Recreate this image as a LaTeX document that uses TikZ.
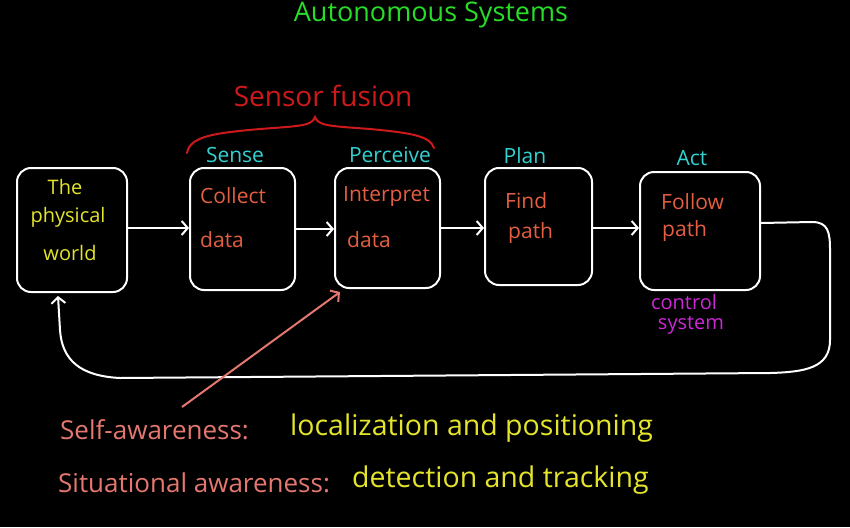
\documentclass[tikz,border=0pt]{standalone}
\usepackage{fontspec}
\setmainfont{Open Sans}
\usetikzlibrary{arrows.meta}
\definecolor{cgreen}{RGB}{40,220,40}
\definecolor{cred}{RGB}{205,25,25}
\definecolor{ccyan}{RGB}{50,210,210}
\definecolor{corange}{RGB}{228,95,65}
\definecolor{cyellow}{RGB}{228,228,45}
\definecolor{cmag}{RGB}{205,40,215}
\definecolor{cpink}{RGB}{228,120,112}
\newcommand{\fs}[1]{\fontsize{#1}{#1}\selectfont}
\begin{document}
\begin{tikzpicture}[x=1pt,y=-1pt,
  blk/.style={draw=white,line width=2pt,rounded corners=14pt,inner sep=0pt},
  link/.style={draw=white,line width=2pt,-{Straight Barb[length=6pt,width=14pt,line width=2pt]}},
  inbox/.style={text=corange,font=\fs{21},anchor=west,inner sep=0pt},
  stage/.style={text=ccyan,font=\fs{21},inner sep=0pt},
  note/.style={font=\fs{26},anchor=west,inner sep=0pt},
  ynote/.style={font=\fs{28.5},anchor=west,inner sep=0pt,text=cyellow}]
\fill[black] (0,0) rectangle (850,527);
\useasboundingbox (0,0) rectangle (850,527);

% title
\node[text=cgreen,font=\fs{27},inner sep=0pt] (title) at (431,15) {Autonomous Systems};

% boxes
\node[blk,minimum width=110pt,minimum height=124pt] (world) at (72,230) {};
\node[blk,minimum width=105pt,minimum height=122pt] (sense) at (242.5,229) {};
\node[blk,minimum width=105pt,minimum height=120pt] (perceive) at (387.5,228) {};
\node[blk,minimum width=107pt,minimum height=117pt] (plan) at (538.5,226.5) {};
\node[blk,minimum width=120pt,minimum height=118pt] (act) at (700,231) {};

% box texts
\node[text=cyellow,font=\fs{20},inner sep=0pt] (w1) at (65,187) {The};
\node[text=cyellow,font=\fs{20},inner sep=0pt] (w2) at (68,217) {physical};
\node[text=cyellow,font=\fs{20},inner sep=0pt] (w3) at (70,253) {world};
\node[inbox] (s1) at (200,196) {Collect};
\node[inbox] (s2) at (200,240) {data};
\node[inbox] (p1) at (343,197) {Interpret};
\node[inbox] (p2) at (347,240) {data};
\node[inbox] (pl1) at (505,201) {Find};
\node[inbox] (pl2) at (508,233) {path};
\node[inbox] (a1) at (661,202) {Follow};
\node[inbox] (a2) at (662,231) {path};

% stage labels
\node[stage] (lsense) at (235,155) {Sense};
\node[stage] (lperc) at (390,155) {Perceive};
\node[stage] (lplan) at (525,156) {Plan};
\node[stage] (lact) at (692,158) {Act};

% sensor fusion
\node[text=cred,font=\fs{28},inner sep=0pt] (fusion) at (323,96) {Sensor fusion};
\draw[cred,line width=2pt,line cap=round] (187,153) .. controls (190,136) and (215,133) .. (260,129)
  .. controls (300,126) and (312,126) .. (315,117)
  .. controls (318,126) and (330,126) .. (370,129)
  .. controls (412,133) and (430,136) .. (434,148);

% control system
\node[text=cmag,font=\fs{20},inner sep=0pt] (ctrl1) at (684,302) {control};
\node[text=cmag,font=\fs{20},inner sep=0pt] (ctrl2) at (691,325) {system};

% forward links
\draw[link] ([yshift=2pt]world.east) -- ([yshift=2pt]world.east -| sense.west);
\draw[link] (sense.east) -- (sense.east -| perceive.west);
\draw[link] (perceive.east) -- (perceive.east -| plan.west);
\draw[link] ([yshift=-1.5pt]plan.east) -- ([yshift=-1.5pt]plan.east -| act.west);

% feedback
\coordinate (fb) at ([xshift=-14pt,yshift=-3pt]world.south);
\draw[link] ([yshift=8pt]act.east) -- (812,222) .. controls (828,222) and (830,232) .. (830,250)
  -- (830,340) .. controls (830,368) and (805,372) .. (770,373)
  -- (120,378) .. controls (80,376) and (62,360) .. (60,330) -- (fb);

% bottom notes
\node[note,text=cpink] (self) at (60,430) {Self-awareness:};
\node[ynote] (loc) at (290,428) {localization and positioning};
\node[note,text=cpink] (sit) at (58,483) {Situational awareness:};
\node[ynote] (det) at (352,480) {detection and tracking};

% pink arrow
\coordinate (pstart) at (182,407);
\draw[draw=cpink,line width=2pt,-{Straight Barb[length=6pt,width=14pt,line width=2pt]}] (pstart) -- ([xshift=6pt,yshift=-3pt]perceive.south west);
\end{tikzpicture}
\end{document}
